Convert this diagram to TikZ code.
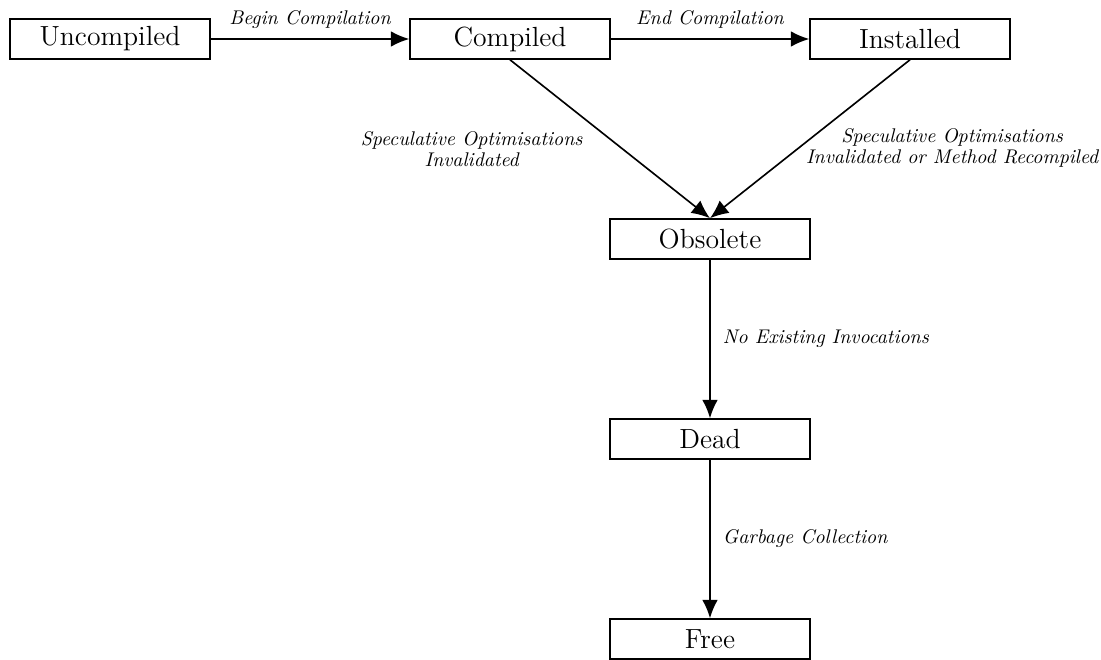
\documentclass[tikz,border=0pt]{standalone}
\usetikzlibrary{arrows.meta}
\begin{document}
\begin{tikzpicture}[x=0.52pt,y=-0.52pt,
  state/.style={draw, line width=0.8pt, minimum width=104pt, minimum height=20.8pt,
                inner sep=0pt, font=\Large},
  trans/.style={line width=0.85pt, -{Latex[length=9.6pt,width=8.2pt]}},
  lbl/.style={font=\fontsize{10.3}{11}\selectfont\itshape, align=center}]
\useasboundingbox (0,0) rectangle (1101,660);

% states of a compiled method
\node[state] (unc)  at (110,39)  {Uncompiled};
\node[state] (comp) at (510,39)  {Compiled};
\node[state] (inst) at (910,39)  {Installed};
\node[state] (obs)  at (710,239) {Obsolete};
\node[state] (dead) at (710,439) {Dead};
\node[state] (free) at (710,639) {Free};

% transitions
\draw[trans] (unc) -- node[lbl, anchor=south, yshift=1.8pt] {Begin Compilation} (comp);
\draw[trans] (comp) -- node[lbl, anchor=south, yshift=1.8pt] {End Compilation} (inst);
\draw[trans] (comp.south) -- node[lbl, pos=0.5625, anchor=east, xshift=-17pt]
  {Speculative Optimisations\\Invalidated} (obs.north);
\draw[trans] (inst.south) -- node[lbl, pos=0.556, anchor=west]
  {Speculative Optimisations\\Invalidated or Method Recompiled} (obs.north);
\draw[trans] (obs) -- node[lbl, anchor=west, xshift=3pt] {No Existing Invocations} (dead);
\draw[trans] (dead) -- node[lbl, anchor=west, xshift=3pt] {Garbage Collection} (free);
\end{tikzpicture}
\end{document}
